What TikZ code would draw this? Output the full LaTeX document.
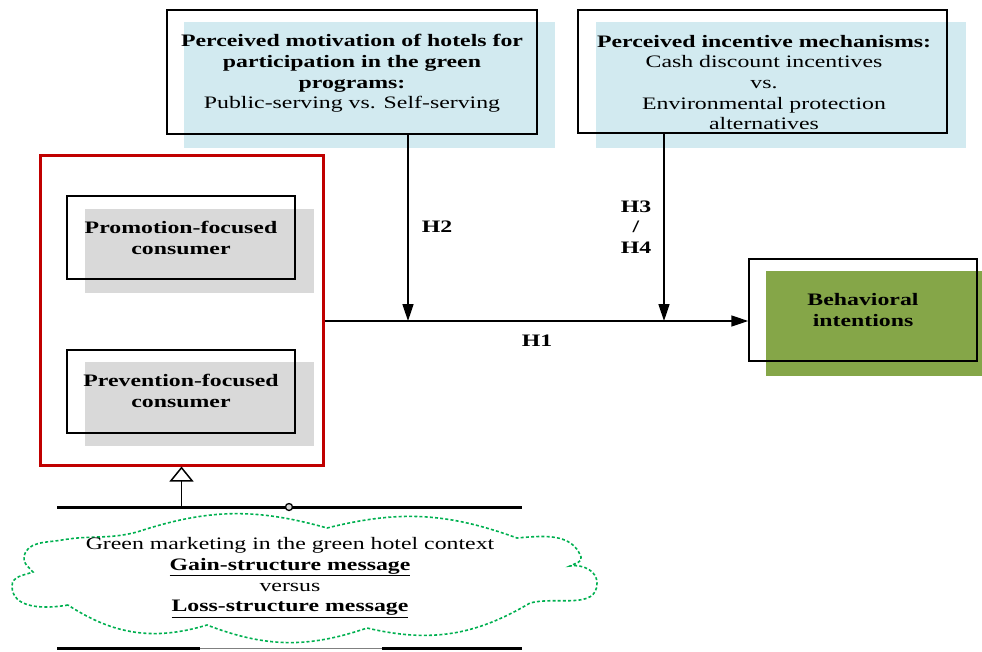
\documentclass[tikz,border=0pt]{standalone}
\usepackage{fontspec}
\setmainfont[FakeStretch=1.36]{Liberation Serif}
\usetikzlibrary{arrows.meta}
\definecolor{lblue}{RGB}{210,234,240}
\definecolor{lgray}{RGB}{217,217,217}
\definecolor{olive}{RGB}{133,166,72}
\definecolor{dred}{RGB}{192,0,0}
\definecolor{cgreen}{RGB}{0,176,80}
\tikzset{
  fillbox/.style={draw=none, inner sep=0pt, fill=#1},
  border/.style={draw=black, line width=1.5pt, inner sep=0pt},
  txt/.style={align=center, inner sep=0pt, font=\fontsize{17.5}{20.7}\selectfont},
  hlab/.style={inner sep=0pt, font=\fontsize{17.5}{20.7}\selectfont\bfseries, align=center},
  arr/.style={line width=1.6pt, -{Triangle[length=17pt,width=11pt]}},
}
\begin{document}
\begin{tikzpicture}[x=1pt,y=-1pt]
\useasboundingbox (0,0) rectangle (982,651);
% top-left box
\node[fillbox=lblue, minimum width=371pt, minimum height=126pt] (f1) at (369.5,85) {};
\node[border, minimum width=370pt, minimum height=124pt] (box1) at (352,72) {};
\node[txt] (t1) at (352,73.5) {\textbf{Perceived motivation of hotels for}\\\textbf{participation in the green}\\\textbf{programs:}\\Public-serving vs. Self-serving};
% top-right box
\node[fillbox=lblue, minimum width=370pt, minimum height=126pt] (f2) at (781,85) {};
\node[border, minimum width=369pt, minimum height=123pt] (box2) at (762.5,71.5) {};
\node[txt] (t2) at (764,82.5) {\textbf{Perceived incentive mechanisms:}\\Cash discount incentives\\vs.\\Environmental protection\\alternatives};
% red container
\node[draw=dred, line width=3pt, inner sep=0pt, minimum width=283pt, minimum height=310pt] (red) at (181.5,310) {};
% promotion
\node[fillbox=lgray, minimum width=229pt, minimum height=84pt] (f3) at (199.5,251) {};
\node[border, minimum width=228pt, minimum height=83pt] (promo) at (181,237.5) {};
\node[txt, font=\fontsize{17.5}{21}\selectfont\bfseries] (t3) at (181,237.5) {Promotion-focused\\consumer};
% prevention
\node[fillbox=lgray, minimum width=229pt, minimum height=84pt] (f4) at (199.5,404) {};
\node[border, minimum width=228pt, minimum height=83pt] (prev) at (181,391.5) {};
\node[txt, font=\fontsize{17.5}{21}\selectfont\bfseries] (t4) at (181,391) {Prevention-focused\\consumer};
% behavioral
\node[fillbox=olive, minimum width=216pt, minimum height=105pt] (f5) at (874,323.5) {};
\node[border, minimum width=228pt, minimum height=102pt] (behav) at (863,310) {};
\node[txt, font=\fontsize{17.5}{21}\selectfont\bfseries] (t5) at (863,310) {Behavioral\\intentions};
% arrows
\coordinate (j2) at (408,321);
\coordinate (j3) at (664,321);
\draw[arr] ([yshift=-11pt]red.east) -- ([yshift=-11pt]behav.west);
\draw[arr] (box1.south -| j2) -- (j2);
\draw[arr] (box2.south -| j3) -- (j3);
\node[hlab] (h1) at (537,341) {H1};
\node[hlab] (h2) at (437,227) {H2};
\node[hlab, font=\fontsize{17.5}{20.5}\selectfont\bfseries] (h34) at (636,227) {H3\\/\\H4};
% bar and triangle
\coordinate (barL) at (57,507);
\coordinate (barR) at (522,507);
\coordinate (stem) at (181.5,507);
\draw[line width=3pt] (barL) -- (barR);
\draw[line width=1.5pt, -{Triangle[open,length=15pt,width=24pt]}] (stem) -- (red.south);
\node[circle, draw=black, fill=lgray, line width=1.3pt, inner sep=0pt, minimum size=7pt] (knob) at (289,507) {};
% cloud
\draw[cgreen, line width=1.6pt, dash pattern=on 3pt off 2.2pt]
  (68,605) to[out=190,in=270] (12,586) to[out=90,in=200] (33,572)
  to[out=130,in=260] (24,557) to[out=80,in=190] (62,540) to[out=10,in=195] (137,532)
  to[bend left=17] (327,528)
  to[bend left=17] (517,538)
  to[out=5,in=110] (581,557) to[out=290,in=30] (570,566)
  to[out=10,in=90] (597,583) to[out=270,in=15] (530,603)
  to[bend left=22] (367,628)
  to[bend left=20] (207,625)
  to[bend left=25] cycle;
\node[txt] (ct) at (290,577.5) {Green marketing in the green hotel context\\\textbf{\underline{Gain-structure message}}\\versus\\\textbf{\underline{Loss-structure message}}};
% bottom bar
\coordinate (bL) at (57,648);
\coordinate (bA) at (200,648);
\coordinate (bB) at (382,648);
\coordinate (bR) at (522,648);
\draw[line width=3pt] (bL) -- (bA);
\draw[line width=3pt] (bB) -- (bR);
\draw[gray, line width=1pt] (bA) -- (bB);
\end{tikzpicture}
\end{document}
